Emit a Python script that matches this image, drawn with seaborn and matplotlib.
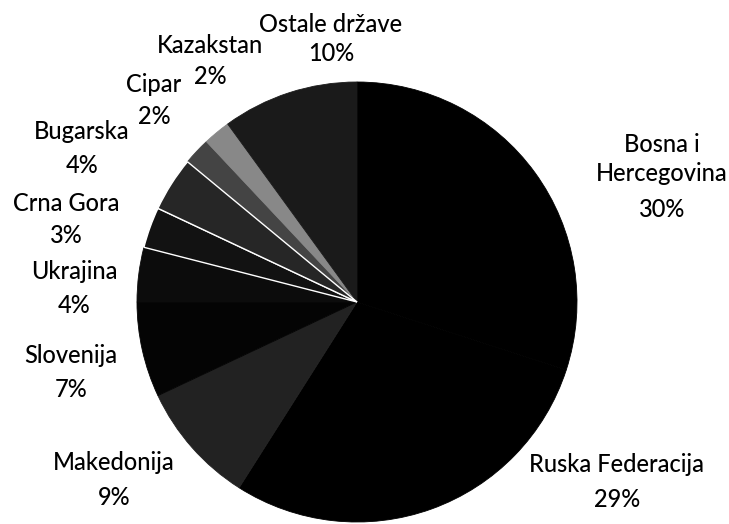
import matplotlib
matplotlib.use("Agg")
import matplotlib.pyplot as plt
import seaborn as sns

categories = ["Bosna i\nHercegovina", "Ruska Federacija", "Makedonija", "Slovenija",
              "Ukrajina", "Crna Gora", "Bugarska", "Cipar", "Kazakstan", "Ostale države"]
shares = [30, 29, 9, 7, 4, 3, 4, 2, 2, 10]
colors = ["#000000", "#000000", "#222222", "#040404", "#0c0c0c",
          "#121212", "#262626", "#444444", "#888888", "#1a1a1a"]
# label placement: x centre, baseline of last name line, baseline of percent line (pixels from top)
label_x = [662, 617, 114, 71, 74, 66, 82, 154, 210, 331]
name_baseline = [181, 472, 470, 363, 279, 211, 139, 92, 53, 32]
pct_baseline = [217, 507, 505, 397, 313, 243, 173, 124, 84, 61]

sns.set_theme(style="white")
plt.rcParams["font.family"] = ["Lato", "DejaVu Sans"]

W, H = 729, 524
fig = plt.figure(figsize=(W / 100, H / 100), dpi=100)
ax = fig.add_axes([0, 0, 1, 1])

wedges, _ = ax.pie(shares, colors=colors, startangle=90, counterclock=False,
                   center=(357, H - 302), radius=220,
                   wedgeprops=dict(linewidth=0.6))
for w, c in zip(wedges, colors):
    w.set_edgecolor(c)
for i in (5, 6):
    wedges[i].set_edgecolor("white")
    wedges[i].set_linewidth(1.0)
    wedges[i].set_zorder(3)

ax.set_xlim(0, W)
ax.set_ylim(0, H)
ax.set_aspect("equal")
ax.axis("off")

txt = dict(ha="center", va="baseline", fontsize=17, color="black", fontweight="medium")
for name, val, x, yn, yp in zip(categories, shares, label_x, name_baseline, pct_baseline):
    lines = name.split("\n")
    for k, line in enumerate(reversed(lines)):
        ax.text(x, H - yn + k * 29, line, **txt)
    ax.text(x, H - yp, f"{val}%", **txt)

fig.savefig("out.png", dpi=100)
